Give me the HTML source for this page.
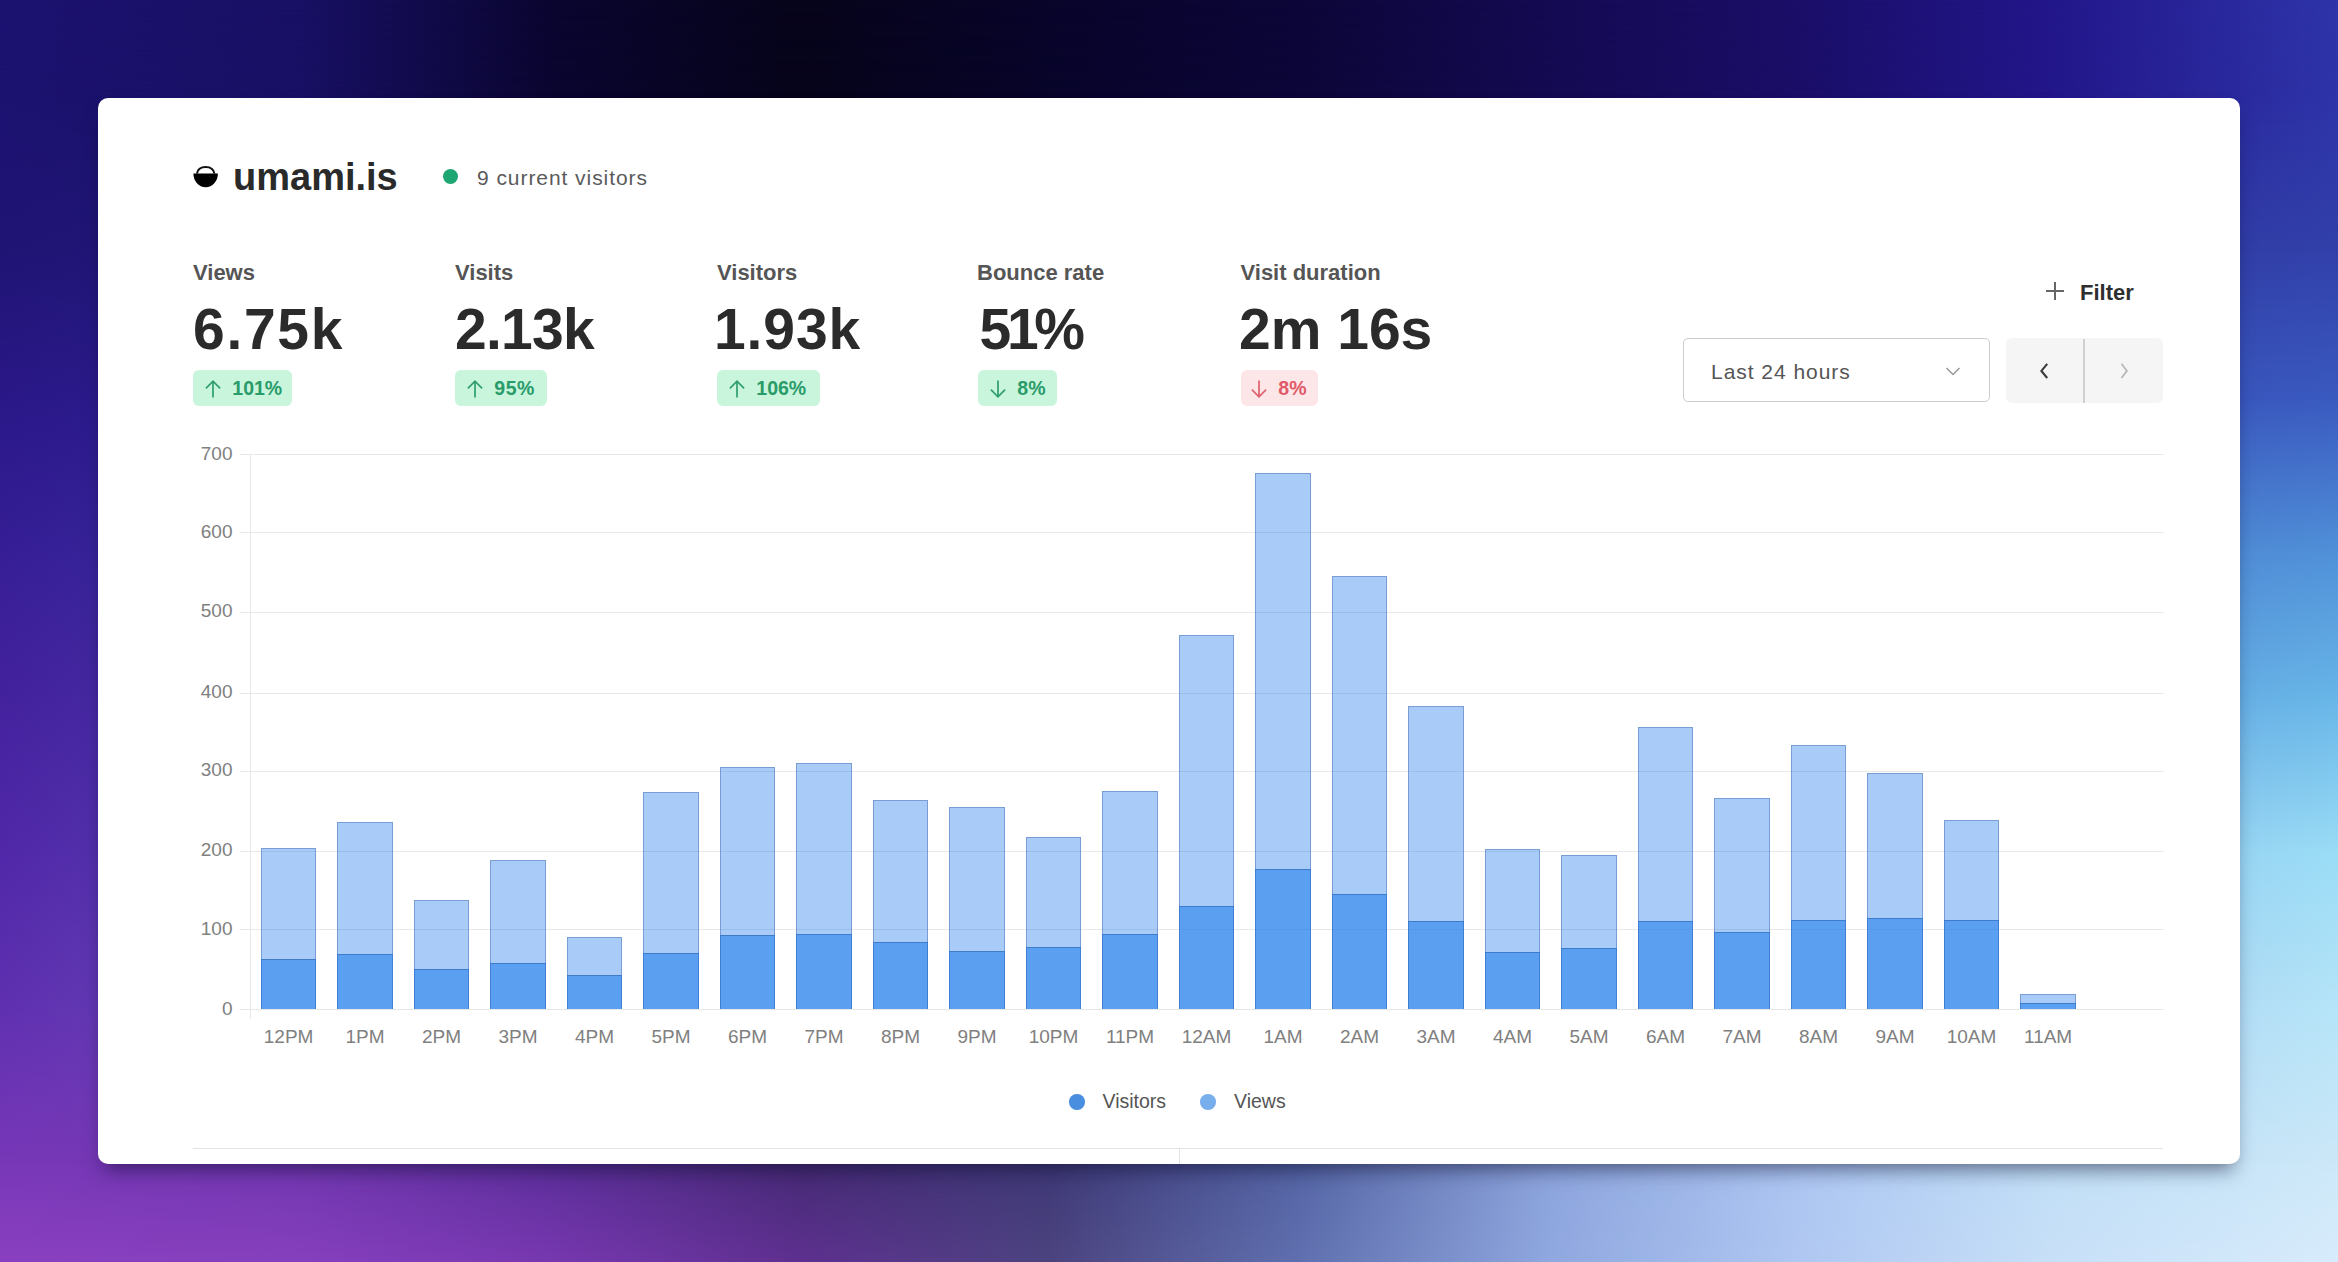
<!DOCTYPE html>
<html><head><meta charset="utf-8"><style>
html,body{margin:0;padding:0;width:2338px;height:1262px;overflow:hidden;background:#3a2a90}
body{position:relative;font-family:"Liberation Sans",sans-serif}
.c{position:absolute}
.c i{position:absolute;left:0;top:0;right:0;bottom:0;-webkit-mask-image:linear-gradient(to bottom,#000,transparent);mask-image:linear-gradient(to bottom,#000,transparent)}
.card{position:absolute;left:98px;top:98px;width:2142px;height:1066px;background:#fff;border-radius:10px;overflow:hidden;box-shadow:0 12px 20px -7px rgba(10,10,40,0.55)}
.t{position:absolute;white-space:nowrap;line-height:1.149}
.abs,.logo{position:absolute}
.brand{font-weight:bold;color:#2a2a2a}
.cur{color:#5a5a5a}
.dot{position:absolute;width:15px;height:15px;border-radius:50%;background:#1ea672}
.lab{font-weight:bold;color:#555}
.val{font-weight:bold;color:#2b2b2b}
.badge{position:absolute;height:36px;border-radius:6px}
.badge.good{background:#c9f5dd}
.badge.bad{background:#fde6e8}
.bt{font-weight:bold}
.bt.good{color:#2a9c6a}
.bt.bad{color:#e05a68}
.filt{font-weight:bold;color:#2f2f2f}
.dd{position:absolute;width:306.6px;height:64px;border:1.5px solid #cccccc;border-radius:5px;box-sizing:border-box}
.ddt{color:#555}
.nav{position:absolute;width:157px;height:65px;border-radius:6px;background:#f5f5f5}
.nav .div{position:absolute;left:77px;top:1px;width:2px;height:64px;background:#d0d0d0}
.gl{position:absolute;height:1px;background:#e8e8e8}
.gv{position:absolute;width:1px;background:#e8e8e8}
.yl,.xl{color:#808080}
.bv{position:absolute;box-sizing:border-box;background:rgba(38,128,235,0.4);border:1px solid rgba(50,90,160,0.4);border-bottom:0}
.bs{position:absolute;box-sizing:border-box;background:rgba(38,128,235,0.6);border:1px solid rgba(30,80,160,0.2);border-top-color:rgba(30,80,160,0.45);border-bottom:0}
.ldot{position:absolute;width:15.5px;height:15.5px;border-radius:50%}
.leg{color:#555}
</style></head><body>
<div class="c" style="left:0px;top:0px;width:300px;height:98px;background:linear-gradient(to right,rgb(28,18,112),rgb(24,16,100))"><i style="background:linear-gradient(to right,rgb(28,18,112),rgb(24,16,100))"></i></div>
<div class="c" style="left:300px;top:0px;width:250px;height:98px;background:linear-gradient(to right,rgb(24,16,100),rgb(10,5,48))"><i style="background:linear-gradient(to right,rgb(24,16,100),rgb(10,5,48))"></i></div>
<div class="c" style="left:550px;top:0px;width:250px;height:98px;background:linear-gradient(to right,rgb(10,5,48),rgb(6,4,26))"><i style="background:linear-gradient(to right,rgb(10,5,48),rgb(6,4,26))"></i></div>
<div class="c" style="left:800px;top:0px;width:250px;height:98px;background:linear-gradient(to right,rgb(6,4,26),rgb(8,4,42))"><i style="background:linear-gradient(to right,rgb(6,4,26),rgb(8,4,42))"></i></div>
<div class="c" style="left:1050px;top:0px;width:250px;height:98px;background:linear-gradient(to right,rgb(8,4,42),rgb(12,6,56))"><i style="background:linear-gradient(to right,rgb(8,4,42),rgb(12,6,56))"></i></div>
<div class="c" style="left:1300px;top:0px;width:250px;height:98px;background:linear-gradient(to right,rgb(12,6,56),rgb(20,10,82))"><i style="background:linear-gradient(to right,rgb(12,6,56),rgb(20,10,82))"></i></div>
<div class="c" style="left:1550px;top:0px;width:250px;height:98px;background:linear-gradient(to right,rgb(20,10,82),rgb(26,14,104))"><i style="background:linear-gradient(to right,rgb(20,10,82),rgb(26,14,104))"></i></div>
<div class="c" style="left:1800px;top:0px;width:250px;height:98px;background:linear-gradient(to right,rgb(26,14,104),rgb(34,22,138))"><i style="background:linear-gradient(to right,rgb(26,14,104),rgb(34,22,138))"></i></div>
<div class="c" style="left:2050px;top:0px;width:288px;height:98px;background:linear-gradient(to right,rgb(34,22,138),rgb(46,52,168))"><i style="background:linear-gradient(to right,rgb(34,22,138),rgb(46,52,168))"></i></div>
<div class="c" style="left:0px;top:98px;width:300px;height:152px;background:linear-gradient(to right,rgb(32,20,116),rgb(34,26,123))"><i style="background:linear-gradient(to right,rgb(28,18,112),rgb(24,16,100))"></i></div>
<div class="c" style="left:300px;top:98px;width:250px;height:152px;background:linear-gradient(to right,rgb(34,26,123),rgb(36,30,129))"><i style="background:linear-gradient(to right,rgb(24,16,100),rgb(10,5,48))"></i></div>
<div class="c" style="left:550px;top:98px;width:250px;height:152px;background:linear-gradient(to right,rgb(36,30,129),rgb(38,35,134))"><i style="background:linear-gradient(to right,rgb(10,5,48),rgb(6,4,26))"></i></div>
<div class="c" style="left:800px;top:98px;width:250px;height:152px;background:linear-gradient(to right,rgb(38,35,134),rgb(40,40,140))"><i style="background:linear-gradient(to right,rgb(6,4,26),rgb(8,4,42))"></i></div>
<div class="c" style="left:1050px;top:98px;width:250px;height:152px;background:linear-gradient(to right,rgb(40,40,140),rgb(42,44,146))"><i style="background:linear-gradient(to right,rgb(8,4,42),rgb(12,6,56))"></i></div>
<div class="c" style="left:1300px;top:98px;width:250px;height:152px;background:linear-gradient(to right,rgb(42,44,146),rgb(44,49,152))"><i style="background:linear-gradient(to right,rgb(12,6,56),rgb(20,10,82))"></i></div>
<div class="c" style="left:1550px;top:98px;width:250px;height:152px;background:linear-gradient(to right,rgb(44,49,152),rgb(46,54,158))"><i style="background:linear-gradient(to right,rgb(20,10,82),rgb(26,14,104))"></i></div>
<div class="c" style="left:1800px;top:98px;width:250px;height:152px;background:linear-gradient(to right,rgb(46,54,158),rgb(48,59,163))"><i style="background:linear-gradient(to right,rgb(26,14,104),rgb(34,22,138))"></i></div>
<div class="c" style="left:2050px;top:98px;width:288px;height:152px;background:linear-gradient(to right,rgb(48,59,163),rgb(50,64,170))"><i style="background:linear-gradient(to right,rgb(34,22,138),rgb(46,52,168))"></i></div>
<div class="c" style="left:0px;top:250px;width:300px;height:150px;background:linear-gradient(to right,rgb(42,24,136),rgb(44,32,143))"><i style="background:linear-gradient(to right,rgb(32,20,116),rgb(34,26,123))"></i></div>
<div class="c" style="left:300px;top:250px;width:250px;height:150px;background:linear-gradient(to right,rgb(44,32,143),rgb(46,40,149))"><i style="background:linear-gradient(to right,rgb(34,26,123),rgb(36,30,129))"></i></div>
<div class="c" style="left:550px;top:250px;width:250px;height:150px;background:linear-gradient(to right,rgb(46,40,149),rgb(47,47,155))"><i style="background:linear-gradient(to right,rgb(36,30,129),rgb(38,35,134))"></i></div>
<div class="c" style="left:800px;top:250px;width:250px;height:150px;background:linear-gradient(to right,rgb(47,47,155),rgb(49,54,161))"><i style="background:linear-gradient(to right,rgb(38,35,134),rgb(40,40,140))"></i></div>
<div class="c" style="left:1050px;top:250px;width:250px;height:150px;background:linear-gradient(to right,rgb(49,54,161),rgb(51,61,167))"><i style="background:linear-gradient(to right,rgb(40,40,140),rgb(42,44,146))"></i></div>
<div class="c" style="left:1300px;top:250px;width:250px;height:150px;background:linear-gradient(to right,rgb(51,61,167),rgb(53,68,173))"><i style="background:linear-gradient(to right,rgb(42,44,146),rgb(44,49,152))"></i></div>
<div class="c" style="left:1550px;top:250px;width:250px;height:150px;background:linear-gradient(to right,rgb(53,68,173),rgb(54,75,179))"><i style="background:linear-gradient(to right,rgb(44,49,152),rgb(46,54,158))"></i></div>
<div class="c" style="left:1800px;top:250px;width:250px;height:150px;background:linear-gradient(to right,rgb(54,75,179),rgb(56,82,185))"><i style="background:linear-gradient(to right,rgb(46,54,158),rgb(48,59,163))"></i></div>
<div class="c" style="left:2050px;top:250px;width:288px;height:150px;background:linear-gradient(to right,rgb(56,82,185),rgb(58,90,192))"><i style="background:linear-gradient(to right,rgb(48,59,163),rgb(50,64,170))"></i></div>
<div class="c" style="left:0px;top:400px;width:300px;height:150px;background:linear-gradient(to right,rgb(54,30,150),rgb(57,45,158))"><i style="background:linear-gradient(to right,rgb(42,24,136),rgb(44,32,143))"></i></div>
<div class="c" style="left:300px;top:400px;width:250px;height:150px;background:linear-gradient(to right,rgb(57,45,158),rgb(60,57,166))"><i style="background:linear-gradient(to right,rgb(44,32,143),rgb(46,40,149))"></i></div>
<div class="c" style="left:550px;top:400px;width:250px;height:150px;background:linear-gradient(to right,rgb(60,57,166),rgb(63,69,173))"><i style="background:linear-gradient(to right,rgb(46,40,149),rgb(47,47,155))"></i></div>
<div class="c" style="left:800px;top:400px;width:250px;height:150px;background:linear-gradient(to right,rgb(63,69,173),rgb(66,81,180))"><i style="background:linear-gradient(to right,rgb(47,47,155),rgb(49,54,161))"></i></div>
<div class="c" style="left:1050px;top:400px;width:250px;height:150px;background:linear-gradient(to right,rgb(66,81,180),rgb(68,93,187))"><i style="background:linear-gradient(to right,rgb(49,54,161),rgb(51,61,167))"></i></div>
<div class="c" style="left:1300px;top:400px;width:250px;height:150px;background:linear-gradient(to right,rgb(68,93,187),rgb(71,106,194))"><i style="background:linear-gradient(to right,rgb(51,61,167),rgb(53,68,173))"></i></div>
<div class="c" style="left:1550px;top:400px;width:250px;height:150px;background:linear-gradient(to right,rgb(71,106,194),rgb(74,118,201))"><i style="background:linear-gradient(to right,rgb(53,68,173),rgb(54,75,179))"></i></div>
<div class="c" style="left:1800px;top:400px;width:250px;height:150px;background:linear-gradient(to right,rgb(74,118,201),rgb(77,130,208))"><i style="background:linear-gradient(to right,rgb(54,75,179),rgb(56,82,185))"></i></div>
<div class="c" style="left:2050px;top:400px;width:288px;height:150px;background:linear-gradient(to right,rgb(77,130,208),rgb(80,144,216))"><i style="background:linear-gradient(to right,rgb(56,82,185),rgb(58,90,192))"></i></div>
<div class="c" style="left:0px;top:550px;width:300px;height:150px;background:linear-gradient(to right,rgb(68,34,158),rgb(73,53,167))"><i style="background:linear-gradient(to right,rgb(54,30,150),rgb(57,45,158))"></i></div>
<div class="c" style="left:300px;top:550px;width:250px;height:150px;background:linear-gradient(to right,rgb(73,53,167),rgb(76,69,175))"><i style="background:linear-gradient(to right,rgb(57,45,158),rgb(60,57,166))"></i></div>
<div class="c" style="left:550px;top:550px;width:250px;height:150px;background:linear-gradient(to right,rgb(76,69,175),rgb(80,85,183))"><i style="background:linear-gradient(to right,rgb(60,57,166),rgb(63,69,173))"></i></div>
<div class="c" style="left:800px;top:550px;width:250px;height:150px;background:linear-gradient(to right,rgb(80,85,183),rgb(84,100,191))"><i style="background:linear-gradient(to right,rgb(63,69,173),rgb(66,81,180))"></i></div>
<div class="c" style="left:1050px;top:550px;width:250px;height:150px;background:linear-gradient(to right,rgb(84,100,191),rgb(88,116,199))"><i style="background:linear-gradient(to right,rgb(66,81,180),rgb(68,93,187))"></i></div>
<div class="c" style="left:1300px;top:550px;width:250px;height:150px;background:linear-gradient(to right,rgb(88,116,199),rgb(92,132,207))"><i style="background:linear-gradient(to right,rgb(68,93,187),rgb(71,106,194))"></i></div>
<div class="c" style="left:1550px;top:550px;width:250px;height:150px;background:linear-gradient(to right,rgb(92,132,207),rgb(96,148,215))"><i style="background:linear-gradient(to right,rgb(71,106,194),rgb(74,118,201))"></i></div>
<div class="c" style="left:1800px;top:550px;width:250px;height:150px;background:linear-gradient(to right,rgb(96,148,215),rgb(100,164,223))"><i style="background:linear-gradient(to right,rgb(74,118,201),rgb(77,130,208))"></i></div>
<div class="c" style="left:2050px;top:550px;width:288px;height:150px;background:linear-gradient(to right,rgb(100,164,223),rgb(104,182,232))"><i style="background:linear-gradient(to right,rgb(77,130,208),rgb(80,144,216))"></i></div>
<div class="c" style="left:0px;top:700px;width:300px;height:150px;background:linear-gradient(to right,rgb(80,40,168),rgb(89,63,178))"><i style="background:linear-gradient(to right,rgb(68,34,158),rgb(73,53,167))"></i></div>
<div class="c" style="left:300px;top:700px;width:250px;height:150px;background:linear-gradient(to right,rgb(89,63,178),rgb(97,82,186))"><i style="background:linear-gradient(to right,rgb(73,53,167),rgb(76,69,175))"></i></div>
<div class="c" style="left:550px;top:700px;width:250px;height:150px;background:linear-gradient(to right,rgb(97,82,186),rgb(105,102,195))"><i style="background:linear-gradient(to right,rgb(76,69,175),rgb(80,85,183))"></i></div>
<div class="c" style="left:800px;top:700px;width:250px;height:150px;background:linear-gradient(to right,rgb(105,102,195),rgb(113,121,203))"><i style="background:linear-gradient(to right,rgb(80,85,183),rgb(84,100,191))"></i></div>
<div class="c" style="left:1050px;top:700px;width:250px;height:150px;background:linear-gradient(to right,rgb(113,121,203),rgb(121,140,211))"><i style="background:linear-gradient(to right,rgb(84,100,191),rgb(88,116,199))"></i></div>
<div class="c" style="left:1300px;top:700px;width:250px;height:150px;background:linear-gradient(to right,rgb(121,140,211),rgb(129,159,220))"><i style="background:linear-gradient(to right,rgb(88,116,199),rgb(92,132,207))"></i></div>
<div class="c" style="left:1550px;top:700px;width:250px;height:150px;background:linear-gradient(to right,rgb(129,159,220),rgb(137,179,228))"><i style="background:linear-gradient(to right,rgb(92,132,207),rgb(96,148,215))"></i></div>
<div class="c" style="left:1800px;top:700px;width:250px;height:150px;background:linear-gradient(to right,rgb(137,179,228),rgb(145,198,236))"><i style="background:linear-gradient(to right,rgb(96,148,215),rgb(100,164,223))"></i></div>
<div class="c" style="left:2050px;top:700px;width:288px;height:150px;background:linear-gradient(to right,rgb(145,198,236),rgb(154,220,246))"><i style="background:linear-gradient(to right,rgb(100,164,223),rgb(104,182,232))"></i></div>
<div class="c" style="left:0px;top:850px;width:300px;height:150px;background:linear-gradient(to right,rgb(94,48,176),rgb(105,71,185))"><i style="background:linear-gradient(to right,rgb(80,40,168),rgb(89,63,178))"></i></div>
<div class="c" style="left:300px;top:850px;width:250px;height:150px;background:linear-gradient(to right,rgb(105,71,185),rgb(114,90,193))"><i style="background:linear-gradient(to right,rgb(89,63,178),rgb(97,82,186))"></i></div>
<div class="c" style="left:550px;top:850px;width:250px;height:150px;background:linear-gradient(to right,rgb(114,90,193),rgb(123,110,201))"><i style="background:linear-gradient(to right,rgb(97,82,186),rgb(105,102,195))"></i></div>
<div class="c" style="left:800px;top:850px;width:250px;height:150px;background:linear-gradient(to right,rgb(123,110,201),rgb(133,129,208))"><i style="background:linear-gradient(to right,rgb(105,102,195),rgb(113,121,203))"></i></div>
<div class="c" style="left:1050px;top:850px;width:250px;height:150px;background:linear-gradient(to right,rgb(133,129,208),rgb(142,148,216))"><i style="background:linear-gradient(to right,rgb(113,121,203),rgb(121,140,211))"></i></div>
<div class="c" style="left:1300px;top:850px;width:250px;height:150px;background:linear-gradient(to right,rgb(142,148,216),rgb(151,167,224))"><i style="background:linear-gradient(to right,rgb(121,140,211),rgb(129,159,220))"></i></div>
<div class="c" style="left:1550px;top:850px;width:250px;height:150px;background:linear-gradient(to right,rgb(151,167,224),rgb(160,187,231))"><i style="background:linear-gradient(to right,rgb(129,159,220),rgb(137,179,228))"></i></div>
<div class="c" style="left:1800px;top:850px;width:250px;height:150px;background:linear-gradient(to right,rgb(160,187,231),rgb(169,206,239))"><i style="background:linear-gradient(to right,rgb(137,179,228),rgb(145,198,236))"></i></div>
<div class="c" style="left:2050px;top:850px;width:288px;height:150px;background:linear-gradient(to right,rgb(169,206,239),rgb(180,228,248))"><i style="background:linear-gradient(to right,rgb(145,198,236),rgb(154,220,246))"></i></div>
<div class="c" style="left:0px;top:1000px;width:300px;height:164px;background:linear-gradient(to right,rgb(120,56,184),rgb(114,54,176))"><i style="background:linear-gradient(to right,rgb(94,48,176),rgb(105,71,185))"></i></div>
<div class="c" style="left:300px;top:1000px;width:250px;height:164px;background:linear-gradient(to right,rgb(114,54,176),rgb(92,46,154))"><i style="background:linear-gradient(to right,rgb(105,71,185),rgb(114,90,193))"></i></div>
<div class="c" style="left:550px;top:1000px;width:250px;height:164px;background:linear-gradient(to right,rgb(92,46,154),rgb(70,42,116))"><i style="background:linear-gradient(to right,rgb(114,90,193),rgb(123,110,201))"></i></div>
<div class="c" style="left:800px;top:1000px;width:250px;height:164px;background:linear-gradient(to right,rgb(70,42,116),rgb(62,56,118))"><i style="background:linear-gradient(to right,rgb(123,110,201),rgb(133,129,208))"></i></div>
<div class="c" style="left:1050px;top:1000px;width:250px;height:164px;background:linear-gradient(to right,rgb(62,56,118),rgb(84,100,164))"><i style="background:linear-gradient(to right,rgb(133,129,208),rgb(142,148,216))"></i></div>
<div class="c" style="left:1300px;top:1000px;width:250px;height:164px;background:linear-gradient(to right,rgb(84,100,164),rgb(140,164,220))"><i style="background:linear-gradient(to right,rgb(142,148,216),rgb(151,167,224))"></i></div>
<div class="c" style="left:1550px;top:1000px;width:250px;height:164px;background:linear-gradient(to right,rgb(140,164,220),rgb(172,198,242))"><i style="background:linear-gradient(to right,rgb(151,167,224),rgb(160,187,231))"></i></div>
<div class="c" style="left:1800px;top:1000px;width:250px;height:164px;background:linear-gradient(to right,rgb(172,198,242),rgb(192,222,246))"><i style="background:linear-gradient(to right,rgb(160,187,231),rgb(169,206,239))"></i></div>
<div class="c" style="left:2050px;top:1000px;width:288px;height:164px;background:linear-gradient(to right,rgb(192,222,246),rgb(204,232,248))"><i style="background:linear-gradient(to right,rgb(169,206,239),rgb(180,228,248))"></i></div>
<div class="c" style="left:0px;top:1164px;width:300px;height:98px;background:linear-gradient(to right,rgb(138,64,192),rgb(134,64,190))"><i style="background:linear-gradient(to right,rgb(120,56,184),rgb(114,54,176))"></i></div>
<div class="c" style="left:300px;top:1164px;width:250px;height:98px;background:linear-gradient(to right,rgb(134,64,190),rgb(120,56,176))"><i style="background:linear-gradient(to right,rgb(114,54,176),rgb(92,46,154))"></i></div>
<div class="c" style="left:550px;top:1164px;width:250px;height:98px;background:linear-gradient(to right,rgb(120,56,176),rgb(94,48,144))"><i style="background:linear-gradient(to right,rgb(92,46,154),rgb(70,42,116))"></i></div>
<div class="c" style="left:800px;top:1164px;width:250px;height:98px;background:linear-gradient(to right,rgb(94,48,144),rgb(76,68,128))"><i style="background:linear-gradient(to right,rgb(70,42,116),rgb(62,56,118))"></i></div>
<div class="c" style="left:1050px;top:1164px;width:250px;height:98px;background:linear-gradient(to right,rgb(76,68,128),rgb(96,112,176))"><i style="background:linear-gradient(to right,rgb(62,56,118),rgb(84,100,164))"></i></div>
<div class="c" style="left:1300px;top:1164px;width:250px;height:98px;background:linear-gradient(to right,rgb(96,112,176),rgb(144,168,224))"><i style="background:linear-gradient(to right,rgb(84,100,164),rgb(140,164,220))"></i></div>
<div class="c" style="left:1550px;top:1164px;width:250px;height:98px;background:linear-gradient(to right,rgb(144,168,224),rgb(176,200,242))"><i style="background:linear-gradient(to right,rgb(140,164,220),rgb(172,198,242))"></i></div>
<div class="c" style="left:1800px;top:1164px;width:250px;height:98px;background:linear-gradient(to right,rgb(176,200,242),rgb(200,224,248))"><i style="background:linear-gradient(to right,rgb(172,198,242),rgb(192,222,246))"></i></div>
<div class="c" style="left:2050px;top:1164px;width:288px;height:98px;background:linear-gradient(to right,rgb(200,224,248),rgb(216,236,252))"><i style="background:linear-gradient(to right,rgb(192,222,246),rgb(204,232,248))"></i></div>
<div class="card">
<svg class="abs" style="left:90px;top:62px" width="36" height="34" viewBox="0 0 36 34"><path d="M5.4 13.4 H29.9 A12.25 13.8 0 0 1 5.4 13.4 Z" fill="#000"/><path d="M8.9 13.6 C9.6 9.2 12.2 6.9 17.65 6.9 C23.1 6.9 25.7 9.2 26.4 13.6" fill="none" stroke="#111" stroke-width="2"/></svg>
<div class="t brand" style="left:135.00px;top:58.11px;font-size:38px;">umami.is</div>
<div class="dot" style="left:344.8px;top:71.0px"></div>
<div class="t cur" style="left:379.00px;top:68.30px;font-size:21px;letter-spacing:0.94px;">9 current visitors</div>
<div class="t lab" style="left:95.00px;top:161.89px;font-size:22px;">Views</div>
<div class="t val" style="left:95.00px;top:199.31px;font-size:57px;letter-spacing:1.70px;">6.75k</div>
<div class="badge good" style="left:95px;top:271.8px;width:99px"></div>
<svg class="abs" style="left:107.2px;top:282px;color:#2f9e6c" width="16" height="18" viewBox="0 0 16 18"><path d="M8 17.6 V1.2 M0.9 8.3 L8 1.2 L15.1 8.3" fill="none" stroke="currentColor" stroke-width="1.7"/></svg>
<div class="t bt good" style="left:134.30px;top:278.85px;font-size:19.5px;">101%</div>
<div class="t lab" style="left:357.00px;top:161.89px;font-size:22px;">Visits</div>
<div class="t val" style="left:357.00px;top:199.31px;font-size:57px;letter-spacing:-0.75px;">2.13k</div>
<div class="badge good" style="left:357px;top:271.8px;width:92px"></div>
<svg class="abs" style="left:369.2px;top:282px;color:#2f9e6c" width="16" height="18" viewBox="0 0 16 18"><path d="M8 17.6 V1.2 M0.9 8.3 L8 1.2 L15.1 8.3" fill="none" stroke="currentColor" stroke-width="1.7"/></svg>
<div class="t bt good" style="left:396.30px;top:278.85px;font-size:19.5px;letter-spacing:0.50px;">95%</div>
<div class="t lab" style="left:619.00px;top:161.89px;font-size:22px;">Visitors</div>
<div class="t val" style="left:616.00px;top:199.31px;font-size:57px;letter-spacing:0.90px;">1.93k</div>
<div class="badge good" style="left:619px;top:271.8px;width:103px"></div>
<svg class="abs" style="left:631.2px;top:282px;color:#2f9e6c" width="16" height="18" viewBox="0 0 16 18"><path d="M8 17.6 V1.2 M0.9 8.3 L8 1.2 L15.1 8.3" fill="none" stroke="currentColor" stroke-width="1.7"/></svg>
<div class="t bt good" style="left:658.30px;top:278.85px;font-size:19.5px;">106%</div>
<div class="t lab" style="left:879.00px;top:161.89px;font-size:22px;">Bounce rate</div>
<div class="t val" style="left:881.50px;top:199.31px;font-size:57px;letter-spacing:-4.30px;">51%</div>
<div class="badge good" style="left:880px;top:271.8px;width:79px"></div>
<svg class="abs" style="left:892.2px;top:282px;color:#2f9e6c" width="16" height="18" viewBox="0 0 16 18"><path d="M8 0.4 V16.8 M0.9 9.7 L8 16.8 L15.1 9.7" fill="none" stroke="currentColor" stroke-width="1.7"/></svg>
<div class="t bt good" style="left:919.30px;top:278.85px;font-size:19.5px;">8%</div>
<div class="t lab" style="left:1142.50px;top:161.89px;font-size:22px;">Visit duration</div>
<div class="t val" style="left:1141.00px;top:199.31px;font-size:57px;">2m 16s</div>
<div class="badge bad" style="left:1142.5px;top:271.8px;width:77px"></div>
<svg class="abs" style="left:1153.4px;top:282px;color:#e0606e" width="16" height="18" viewBox="0 0 16 18"><path d="M8 0.4 V16.8 M0.9 9.7 L8 16.8 L15.1 9.7" fill="none" stroke="currentColor" stroke-width="1.7"/></svg>
<div class="t bt bad" style="left:1180.30px;top:278.85px;font-size:19.5px;">8%</div>
<svg class="abs" style="left:1947.0px;top:183.0px" width="20" height="20" viewBox="0 0 20 20"><path d="M10 1 V19 M1 10 H19" stroke="#666" stroke-width="2" fill="none"/></svg>
<div class="t filt" style="left:1982.00px;top:181.59px;font-size:22px;">Filter</div>
<div class="dd" style="left:1585.3px;top:240.3px"></div>
<div class="t ddt" style="left:1613.00px;top:262.30px;font-size:21px;letter-spacing:0.96px;">Last 24 hours</div>
<svg class="abs" style="left:1847.0px;top:268.0px" width="16" height="10" viewBox="0 0 16 10"><path d="M1.5 2 L8 8.5 L14.5 2" stroke="#999" stroke-width="1.5" fill="none"/></svg>
<div class="nav" style="left:1908px;top:240px"><div class="div"></div></div>
<svg class="abs" style="left:1940.0px;top:262.5px" width="12" height="20" viewBox="0 0 12 20"><path d="M9.2 2.8 L3.4 9.9 L9.2 17" stroke="#3a3a3a" stroke-width="2.1" fill="none"/></svg>
<svg class="abs" style="left:2019.5px;top:262.5px" width="12" height="20" viewBox="0 0 12 20"><path d="M3.5 2.8 L8.9 9.9 L3.5 17" stroke="#b8b8b8" stroke-width="1.8" fill="none"/></svg>
<div class="gl" style="left:142px;top:911px;width:1924px"></div>
<div class="t yl" style="left:-98.00px;top:899.71px;font-size:19px;width:100.0px;text-align:right;left:34.5px">0</div>
<div class="gl" style="left:142px;top:831px;width:1924px"></div>
<div class="t yl" style="left:-98.00px;top:819.80px;font-size:19px;width:100.0px;text-align:right;left:34.5px">100</div>
<div class="gl" style="left:142px;top:753px;width:1924px"></div>
<div class="t yl" style="left:-98.00px;top:741.11px;font-size:19px;width:100.0px;text-align:right;left:34.5px">200</div>
<div class="gl" style="left:142px;top:673px;width:1924px"></div>
<div class="t yl" style="left:-98.00px;top:661.21px;font-size:19px;width:100.0px;text-align:right;left:34.5px">300</div>
<div class="gl" style="left:142px;top:595px;width:1924px"></div>
<div class="t yl" style="left:-98.00px;top:583.11px;font-size:19px;width:100.0px;text-align:right;left:34.5px">400</div>
<div class="gl" style="left:142px;top:514px;width:1924px"></div>
<div class="t yl" style="left:-98.00px;top:502.21px;font-size:19px;width:100.0px;text-align:right;left:34.5px">500</div>
<div class="gl" style="left:142px;top:434px;width:1924px"></div>
<div class="t yl" style="left:-98.00px;top:422.90px;font-size:19px;width:100.0px;text-align:right;left:34.5px">600</div>
<div class="gl" style="left:142px;top:356px;width:1924px"></div>
<div class="t yl" style="left:-98.00px;top:344.81px;font-size:19px;width:100.0px;text-align:right;left:34.5px">700</div>
<div class="gv" style="left:151.8px;top:356px;height:565px"></div>
<div class="bv" style="left:162.8px;top:750.0px;width:55.5px;height:161.0px"></div>
<div class="bs" style="left:162.8px;top:860.6px;width:55.5px;height:50.4px"></div>
<div class="t xl" style="left:-98.00px;top:928.11px;font-size:19px;width:100px;text-align:center;left:140.6px">12PM</div>
<div class="bv" style="left:239.3px;top:723.7px;width:55.5px;height:187.3px"></div>
<div class="bs" style="left:239.3px;top:856.2px;width:55.5px;height:54.8px"></div>
<div class="t xl" style="left:-98.00px;top:928.11px;font-size:19px;width:100px;text-align:center;left:217.1px">1PM</div>
<div class="bv" style="left:315.8px;top:801.8px;width:55.5px;height:109.2px"></div>
<div class="bs" style="left:315.8px;top:870.6px;width:55.5px;height:40.4px"></div>
<div class="t xl" style="left:-98.00px;top:928.11px;font-size:19px;width:100px;text-align:center;left:293.6px">2PM</div>
<div class="bv" style="left:392.3px;top:762.3px;width:55.5px;height:148.7px"></div>
<div class="bs" style="left:392.3px;top:865.0px;width:55.5px;height:46.0px"></div>
<div class="t xl" style="left:-98.00px;top:928.11px;font-size:19px;width:100px;text-align:center;left:370.0px">3PM</div>
<div class="bv" style="left:468.8px;top:839.0px;width:55.5px;height:72.0px"></div>
<div class="bs" style="left:468.8px;top:877.2px;width:55.5px;height:33.8px"></div>
<div class="t xl" style="left:-98.00px;top:928.11px;font-size:19px;width:100px;text-align:center;left:446.5px">4PM</div>
<div class="bv" style="left:545.3px;top:694.2px;width:55.5px;height:216.8px"></div>
<div class="bs" style="left:545.3px;top:854.6px;width:55.5px;height:56.4px"></div>
<div class="t xl" style="left:-98.00px;top:928.11px;font-size:19px;width:100px;text-align:center;left:523.0px">5PM</div>
<div class="bv" style="left:621.8px;top:668.6px;width:55.5px;height:242.4px"></div>
<div class="bs" style="left:621.8px;top:837.3px;width:55.5px;height:73.7px"></div>
<div class="t xl" style="left:-98.00px;top:928.11px;font-size:19px;width:100px;text-align:center;left:599.5px">6PM</div>
<div class="bv" style="left:698.3px;top:665.3px;width:55.5px;height:245.7px"></div>
<div class="bs" style="left:698.3px;top:835.7px;width:55.5px;height:75.3px"></div>
<div class="t xl" style="left:-98.00px;top:928.11px;font-size:19px;width:100px;text-align:center;left:676.0px">7PM</div>
<div class="bv" style="left:774.8px;top:701.5px;width:55.5px;height:209.5px"></div>
<div class="bs" style="left:774.8px;top:844.4px;width:55.5px;height:66.6px"></div>
<div class="t xl" style="left:-98.00px;top:928.11px;font-size:19px;width:100px;text-align:center;left:752.5px">8PM</div>
<div class="bv" style="left:851.3px;top:708.6px;width:55.5px;height:202.4px"></div>
<div class="bs" style="left:851.3px;top:852.8px;width:55.5px;height:58.2px"></div>
<div class="t xl" style="left:-98.00px;top:928.11px;font-size:19px;width:100px;text-align:center;left:829.0px">9PM</div>
<div class="bv" style="left:927.8px;top:739.2px;width:55.5px;height:171.8px"></div>
<div class="bs" style="left:927.8px;top:848.8px;width:55.5px;height:62.2px"></div>
<div class="t xl" style="left:-98.00px;top:928.11px;font-size:19px;width:100px;text-align:center;left:905.5px">10PM</div>
<div class="bv" style="left:1004.3px;top:693.0px;width:55.5px;height:218.0px"></div>
<div class="bs" style="left:1004.3px;top:835.7px;width:55.5px;height:75.3px"></div>
<div class="t xl" style="left:-98.00px;top:928.11px;font-size:19px;width:100px;text-align:center;left:982.0px">11PM</div>
<div class="bv" style="left:1080.8px;top:537.2px;width:55.5px;height:373.8px"></div>
<div class="bs" style="left:1080.8px;top:808.2px;width:55.5px;height:102.8px"></div>
<div class="t xl" style="left:-98.00px;top:928.11px;font-size:19px;width:100px;text-align:center;left:1058.5px">12AM</div>
<div class="bv" style="left:1157.3px;top:374.6px;width:55.5px;height:536.4px"></div>
<div class="bs" style="left:1157.3px;top:771.1px;width:55.5px;height:139.9px"></div>
<div class="t xl" style="left:-98.00px;top:928.11px;font-size:19px;width:100px;text-align:center;left:1135.0px">1AM</div>
<div class="bv" style="left:1233.8px;top:477.6px;width:55.5px;height:433.4px"></div>
<div class="bs" style="left:1233.8px;top:795.5px;width:55.5px;height:115.5px"></div>
<div class="t xl" style="left:-98.00px;top:928.11px;font-size:19px;width:100px;text-align:center;left:1211.5px">2AM</div>
<div class="bv" style="left:1310.3px;top:607.6px;width:55.5px;height:303.4px"></div>
<div class="bs" style="left:1310.3px;top:823.1px;width:55.5px;height:87.9px"></div>
<div class="t xl" style="left:-98.00px;top:928.11px;font-size:19px;width:100px;text-align:center;left:1288.0px">3AM</div>
<div class="bv" style="left:1386.8px;top:750.8px;width:55.5px;height:160.2px"></div>
<div class="bs" style="left:1386.8px;top:853.8px;width:55.5px;height:57.2px"></div>
<div class="t xl" style="left:-98.00px;top:928.11px;font-size:19px;width:100px;text-align:center;left:1364.5px">4AM</div>
<div class="bv" style="left:1463.3px;top:757.1px;width:55.5px;height:153.9px"></div>
<div class="bs" style="left:1463.3px;top:849.7px;width:55.5px;height:61.3px"></div>
<div class="t xl" style="left:-98.00px;top:928.11px;font-size:19px;width:100px;text-align:center;left:1441.0px">5AM</div>
<div class="bv" style="left:1539.8px;top:629.4px;width:55.5px;height:281.6px"></div>
<div class="bs" style="left:1539.8px;top:823.3px;width:55.5px;height:87.7px"></div>
<div class="t xl" style="left:-98.00px;top:928.11px;font-size:19px;width:100px;text-align:center;left:1517.5px">6AM</div>
<div class="bv" style="left:1616.3px;top:700.4px;width:55.5px;height:210.6px"></div>
<div class="bs" style="left:1616.3px;top:834.0px;width:55.5px;height:77.0px"></div>
<div class="t xl" style="left:-98.00px;top:928.11px;font-size:19px;width:100px;text-align:center;left:1594.0px">7AM</div>
<div class="bv" style="left:1692.8px;top:646.6px;width:55.5px;height:264.4px"></div>
<div class="bs" style="left:1692.8px;top:821.6px;width:55.5px;height:89.4px"></div>
<div class="t xl" style="left:-98.00px;top:928.11px;font-size:19px;width:100px;text-align:center;left:1670.5px">8AM</div>
<div class="bv" style="left:1769.3px;top:674.5px;width:55.5px;height:236.5px"></div>
<div class="bs" style="left:1769.3px;top:819.5px;width:55.5px;height:91.5px"></div>
<div class="t xl" style="left:-98.00px;top:928.11px;font-size:19px;width:100px;text-align:center;left:1747.0px">9AM</div>
<div class="bv" style="left:1845.8px;top:721.7px;width:55.5px;height:189.3px"></div>
<div class="bs" style="left:1845.8px;top:822.0px;width:55.5px;height:89.0px"></div>
<div class="t xl" style="left:-98.00px;top:928.11px;font-size:19px;width:100px;text-align:center;left:1823.5px">10AM</div>
<div class="bv" style="left:1922.3px;top:896.1px;width:55.5px;height:14.9px"></div>
<div class="bs" style="left:1922.3px;top:904.5px;width:55.5px;height:6.5px"></div>
<div class="t xl" style="left:-98.00px;top:928.11px;font-size:19px;width:100px;text-align:center;left:1900.1px">11AM</div>
<div class="ldot" style="left:971.0px;top:996.0px;background:#4a8ee0"></div>
<div class="t leg" style="left:1004.50px;top:992.15px;font-size:19.5px;">Visitors</div>
<div class="ldot" style="left:1102.0px;top:996.0px;background:#78aeec"></div>
<div class="t leg" style="left:1136.00px;top:992.15px;font-size:19.5px;">Views</div>
<div class="gl" style="left:95px;top:1050px;width:1970px;background:#e3e3e3"></div>
<div class="gv" style="left:1080.5px;top:1050px;height:30px;background:#e3e3e3"></div>
</div>
</body></html>
